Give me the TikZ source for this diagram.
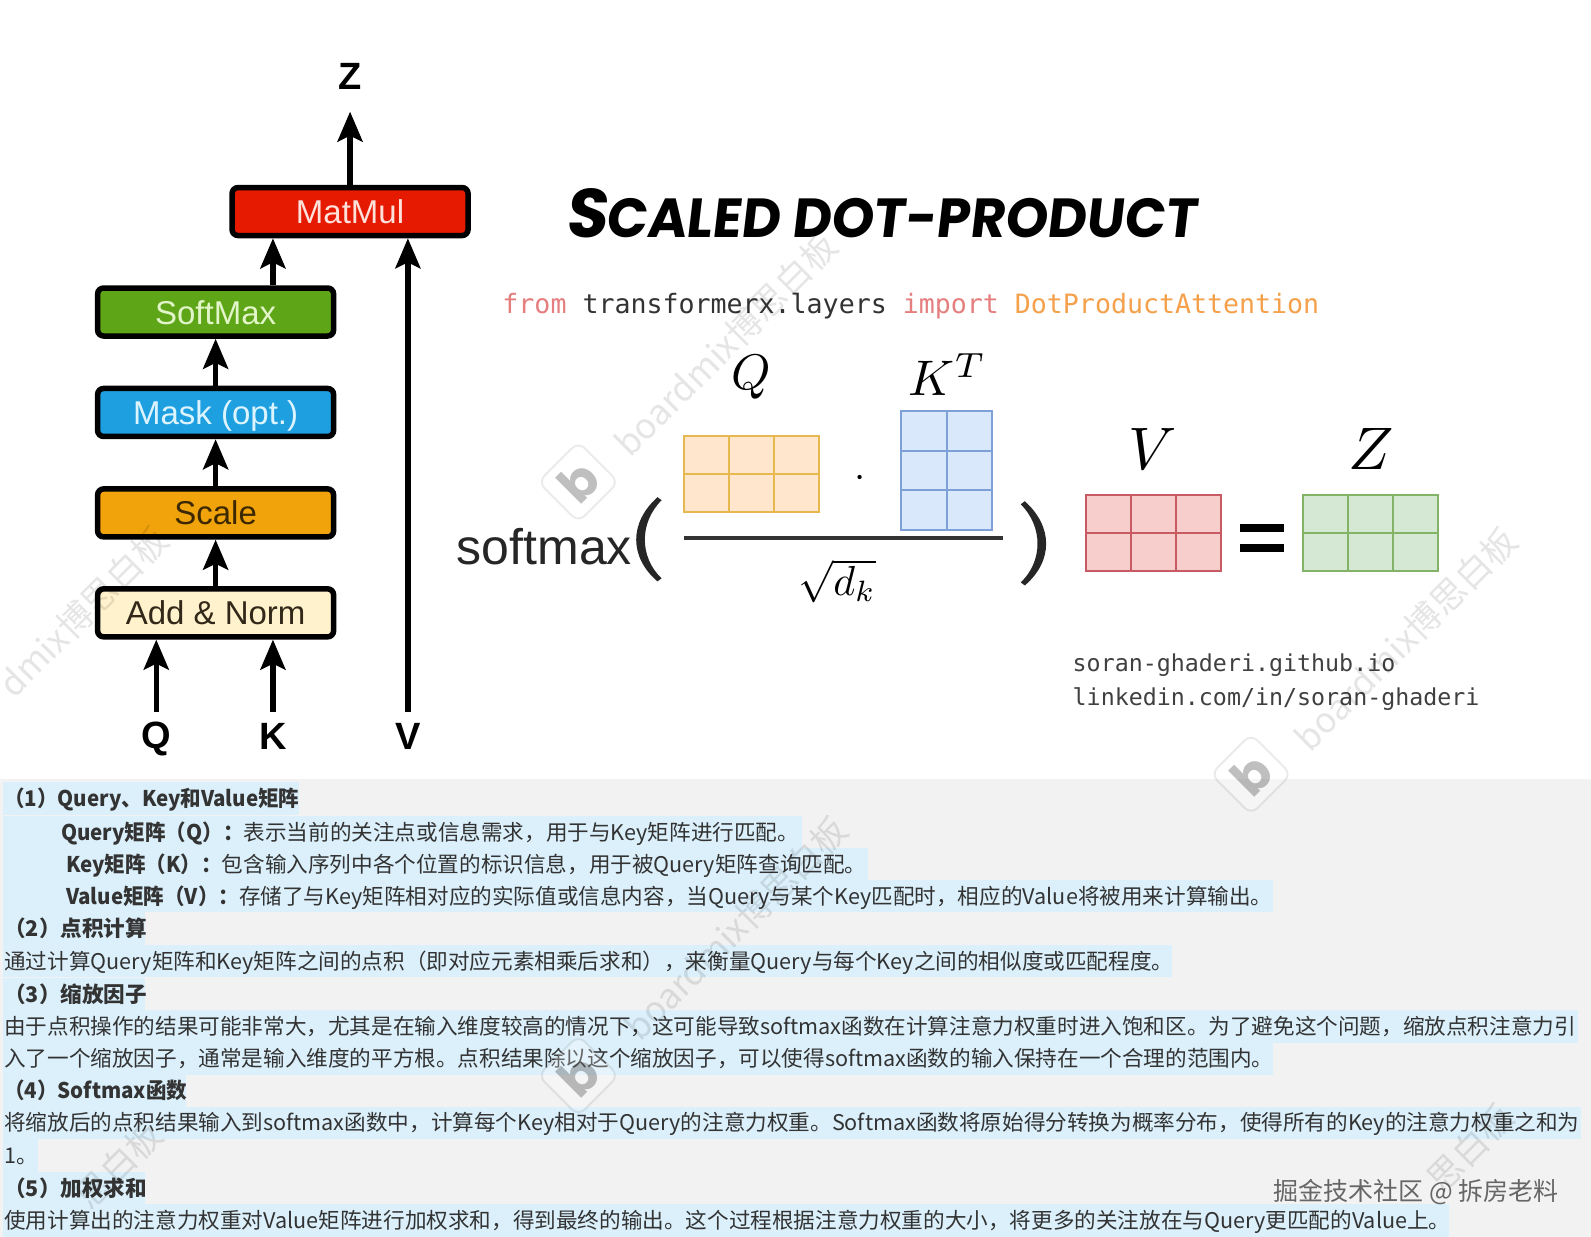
\documentclass[tikz,border=0pt]{standalone}
\usepackage{fontspec}
\usetikzlibrary{arrows.meta}
\setmainfont{Liberation Sans}
\newfontfamily\cjkfont{Noto Sans CJK SC}
\newfontfamily\codefont{DejaVu Sans Mono}
\newfontfamily\titlefont[FakeSlant=0.12]{Poppins}
\newfontfamily\logofont{Poppins}
\definecolor{hlblue}{HTML}{DBF0FB}
\definecolor{panelgray}{HTML}{F2F2F2}
\definecolor{bodytext}{HTML}{333333}
\newcommand{\boldhead}[1]{\scalebox{0.95}[1]{\bfseries #1}}
\tikzset{
  block/.style={draw=black,line width=5.5pt,rounded corners=6pt,minimum width=236pt,minimum height=48pt,inner sep=0pt,text height=24pt,text depth=0pt,font=\fontsize{33}{36}\selectfont},
  flow/.style={line width=5.5pt,-{Stealth[length=30pt,width=25pt,inset=6pt]}},
  inlabel/.style={font=\fontsize{38}{40}\selectfont\bfseries,inner sep=0pt},
  textline/.style={anchor=west,inner sep=0pt,yshift=0pt,text height=19pt,text depth=2.6pt,text=bodytext,font=\cjkfont\fontsize{21.6}{24}\selectfont},
  codeline/.style={anchor=west,inner sep=0pt,font=\codefont\fontsize{26.6}{30}\selectfont},
  linkline/.style={anchor=west,inner sep=0pt,text=black!75,font=\codefont\fontsize{23.3}{26}\selectfont},
  mathlabel/.style={inner sep=0pt},
  wmark/.style={anchor=west,inner sep=0pt,rotate=45,text=black,opacity=0.10,font=\cjkfont\fontsize{35}{38}\selectfont},
}
% grid of a matrix: x0 y0 x1 y1 columns rows fill stroke
\newcommand{\matgrid}[8]{%
  \draw[line width=2pt,draw=#8,fill=#7] (#1,#2) rectangle (#3,#4);
  \pgfmathsetmacro{\mdx}{(#3-#1)/#5}
  \pgfmathsetmacro{\mdy}{(#4-#2)/#6}
  \foreach \mi in {1,...,\numexpr#5-1\relax}{\draw[line width=2pt,draw=#8] ({#1+\mi*\mdx},#2) -- ({#1+\mi*\mdx},#4);}
  \foreach \mi in {1,...,\numexpr#6-1\relax}{\draw[line width=2pt,draw=#8] (#1,{#2+\mi*\mdy}) -- (#3,{#2+\mi*\mdy});}
}
% highlight: y, end x
\newcommand{\hlrow}[2]{\fill[hlblue] (3,#1-16) rectangle (#2,#1+16);}
% logo of the watermark
\newcommand{\wmlogo}[3]{%
  \begin{scope}[shift={(#1,#2)},rotate=45]
    \draw[black,opacity=0.08,line width=2pt,fill=white,fill opacity=0.25,rounded corners=9pt] (-28,-28) rectangle (28,28);
    \node[inner sep=0pt,text=black,opacity=0.25,rotate=45] (#3) {\logofont\bfseries\fontsize{50}{50}\selectfont b};
  \end{scope}}
\begin{document}
\begin{tikzpicture}[x=1.01467pt,y=-1.01467pt]
\useasboundingbox (0,0) rectangle (1568,1219);
\clip (0,0) rectangle (1568,1219);
\fill[white] (0,0) rectangle (1568,1219);

% ---- left stack
\node[block,fill={rgb,255:red,230;green,26;blue,0},text={rgb,255:red,255;green,225;blue,220}] (matmul) at (345,208.5) {MatMul};
\node[block,fill={rgb,255:red,95;green,165;blue,24},text={rgb,255:red,225;green,245;blue,200}] (softmax) at (212.5,307.5) {SoftMax};
\node[block,fill={rgb,255:red,30;green,159;blue,224},text={rgb,255:red,220;green,244;blue,255}] (mask) at (212.5,406.5) {Mask (opt.)};
\node[block,fill={rgb,255:red,240;green,163;blue,10},text={rgb,255:red,60;green,40;blue,0}] (scale) at (212.5,505.5) {Scale};
\node[block,fill={rgb,255:red,255;green,242;blue,204},text={rgb,255:red,50;green,40;blue,25}] (addnorm) at (212.5,604) {Add \& Norm};
\node[inlabel] (zlab) at (345,75) {Z};
\node[inlabel] (qlab) at (154,728) {Q};
\node[inlabel] (klab) at (269,726) {K};
\node[inlabel] (vlab) at (402,726) {V};
\coordinate (ztip) at (345,110);
\coordinate (qtail) at (154,702);
\coordinate (ktail) at (269,702);
\coordinate (vtail) at (402,702);
\draw[flow] (matmul.north) -- (ztip);
\draw[flow] (softmax.north -| klab) -- (matmul.south -| klab);
\draw[flow] (mask.north) -- (softmax.south);
\draw[flow] (scale.north) -- (mask.south);
\draw[flow] (addnorm.north) -- (scale.south);
\draw[flow] (qtail) -- (addnorm.south -| qlab);
\draw[flow] (ktail) -- (addnorm.south -| klab);
\draw[flow] (vtail) -- (matmul.south -| vlab);

% ---- title
\node[inner sep=0pt] (title) at (868,210) {\resizebox{631pt}{49pt}{\titlefont\bfseries S\kern-0.02em{\fontsize{8}{9}\selectfont CALED DOT-PRODUCT}}};

% ---- code line
\node[codeline] (code) at (495,302) {\textcolor[HTML]{E57F7F}{from} \textcolor[HTML]{333333}{transformerx.layers} \textcolor[HTML]{E57F7F}{import} \textcolor[HTML]{F5A04A}{DotProductAttention}};

% ---- formula
\node[inner sep=0pt,text=black!85,anchor=east,font=\fontsize{50}{54}\selectfont] (softtxt) at (623,539) {softmax};
\fill[black!85] (648,490) -- (652,493) .. controls (630,515) and (630,549) .. (652,570) -- (648,573) .. controls (620,549) and (620,515) .. (648,490) -- cycle;
\fill[black!85] (1010,494) -- (1006,497) .. controls (1028,519) and (1028,553) .. (1006,574) -- (1010,577) .. controls (1038,553) and (1038,519) .. (1010,494) -- cycle;
\matgrid{674}{430}{807}{505}{3}{2}{{rgb,255:red,255;green,230;blue,204}}{{rgb,255:red,232;green,184;blue,80}}
\matgrid{888}{405}{978}{522}{2}{3}{{rgb,255:red,218;green,232;blue,252}}{{rgb,255:red,125;green,160;blue,215}}
\matgrid{1070}{488}{1203}{563}{3}{2}{{rgb,255:red,248;green,206;blue,204}}{{rgb,255:red,200;green,90;blue,100}}
\matgrid{1284}{488}{1417}{563}{3}{2}{{rgb,255:red,213;green,232;blue,212}}{{rgb,255:red,130;green,179;blue,102}}
\node[mathlabel] (qm) at (740,372) {\scalebox{5}{$Q$}};
\node[mathlabel] (ktm) at (934,369) {\scalebox{5}{$K^T$}};
\node[mathlabel] (vm) at (1136,443) {\scalebox{6}{$V$}};
\node[mathlabel] (zm) at (1351,443) {\scalebox{6}{$Z$}};
\node[mathlabel] (dotm) at (848,472) {\scalebox{4}{$\cdot$}};
\node[mathlabel] (sqrtm) at (825,573) {\scalebox{4.2}{$\sqrt{d_k}$}};
\fill[black!80] (674,528) rectangle (988,532);
\fill[black] (1222,516) rectangle (1265,524);
\fill[black] (1222,536) rectangle (1265,544);

% ---- links
\node[linkline] (link1) at (1057,656) {soran-ghaderi.github.io};
\node[linkline] (link2) at (1057,689) {linkedin.com/in/soran-ghaderi};

% ---- lower panel
\fill[panelgray] (0,768) rectangle (1568,1219);
\hlrow{787}{295}
\hlrow{820}{790}
\hlrow{851.5}{855}
\hlrow{883}{1255}
\hlrow{915}{143}
\hlrow{947}{1155}
\hlrow{980}{143}
\hlrow{1011.5}{1555}
\hlrow{1043}{1255}
\hlrow{1075}{183}
\hlrow{1106.5}{1558}
\hlrow{1139}{37}
\hlrow{1171}{143}
\fill[hlblue] (3,1187) rectangle (1428,1219);

\node[textline] (l1) at (4,787) {\boldhead{（1）Query、Key和Value矩阵}};
\node[textline] (l2) at (60,820) {\boldhead{Query矩阵（Q）：}表示当前的关注点或信息需求，用于与Key矩阵进行匹配。};
\node[textline] (l3) at (65,851.5) {\boldhead{Key矩阵（K）：}包含输入序列中各个位置的标识信息，用于被Query矩阵查询匹配。};
\node[textline] (l4) at (65,883) {\boldhead{Value矩阵（V）：}存储了与Key矩阵相对应的实际值或信息内容，当Query与某个Key匹配时，相应的Value将被用来计算输出。};
\node[textline] (l5) at (4,915) {\bfseries （2）点积计算};
\node[textline] (l6) at (4,947) {通过计算Query矩阵和Key矩阵之间的点积（即对应元素相乘后求和），来衡量Query与每个Key之间的相似度或匹配程度。};
\node[textline] (l7) at (4,980) {\bfseries （3）缩放因子};
\node[textline] (l8) at (4,1011.5) {由于点积操作的结果可能非常大，尤其是在输入维度较高的情况下，这可能导致softmax函数在计算注意力权重时进入饱和区。为了避免这个问题，缩放点积注意力引};
\node[textline] (l9) at (4,1043) {入了一个缩放因子，通常是输入维度的平方根。点积结果除以这个缩放因子，可以使得softmax函数的输入保持在一个合理的范围内。};
\node[textline] (l10) at (4,1075) {\boldhead{（4）Softmax函数}};
\node[textline] (l11) at (4,1106.5) {将缩放后的点积结果输入到softmax函数中，计算每个Key相对于Query的注意力权重。Softmax函数将原始得分转换为概率分布，使得所有的Key的注意力权重之和为};
\node[textline] (l12) at (4,1139) {1。};
\node[textline] (l13) at (4,1171) {\bfseries （5）加权求和};
\node[textline] (l14) at (4,1203) {使用计算出的注意力权重对Value矩阵进行加权求和，得到最终的输出。这个过程根据注意力权重的大小，将更多的关注放在与Query更匹配的Value上。};
\node[textline,text=black!60,font=\cjkfont\fontsize{25}{28}\selectfont] (credit) at (1255,1175) {掘金技术社区 @ 拆房老料};

% ---- watermarks
\node[wmark] (w1) at (612,443) {boardmix博思白板};
\node[wmark] (w2) at (1282,733) {boardmix博思白板};
\node[wmark] (w3) at (5,680) {dmix博思白板};
\node[wmark] (w4) at (622,1018) {boardmix博思白板};
\node[wmark] (w5) at (80,1185) {思白板};
\node[wmark] (w6) at (1412,1168) {思白板};
\wmlogo{570}{475}{logo1}
\wmlogo{1233}{763}{logo2}
\wmlogo{570}{1060}{logo3}
\end{tikzpicture}
\end{document}
